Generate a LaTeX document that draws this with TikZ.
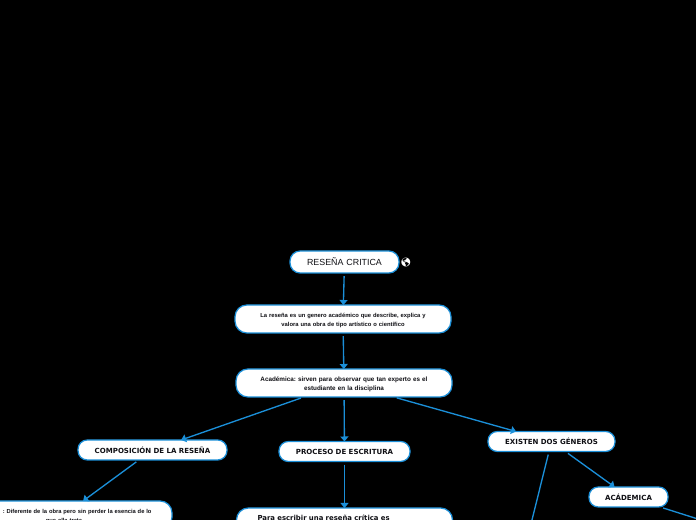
\documentclass[tikz,border=0pt]{standalone}
\usepackage{xcolor}
\usepackage{fontspec}
\usetikzlibrary{arrows.meta, positioning}
\setmainfont{Liberation Sans}
\newfontfamily\headfont{DejaVu Sans}
\newfontfamily\emojifont{Noto Emoji}
\definecolor{myblue}{RGB}{27,143,216}
\definecolor{mydark}{RGB}{15,15,20}
\frenchspacing
\tikzset{
  topic/.style={rectangle, draw=myblue, fill=white, text=mydark,
    text width=5.4cm, align=center, minimum height=0.7cm, inner sep=0pt, outer sep=0pt,
    rounded corners=8.5pt, line width=0.9pt, font=\fontsize{4.15pt}{6.4pt}\selectfont\bfseries},
  heading/.style={topic, minimum height=0.5cm, rounded corners=6.6pt,
    font=\fontsize{5pt}{6.4pt}\headfont\bfseries},
  lowtext/.style={execute at begin node=\rule{0pt}{4.7pt}},
  link/.style={-{Triangle[width=0.2cm, length=0.125cm]}, line width=0.95pt, color=myblue,
    shorten <=0.08cm}
}
\begin{document}
\begin{tikzpicture}
  \fill[black] (0,0) rectangle (17.4,13);
  \path[use as bounding box] (0,0) rectangle (17.4,13);
  \clip (0,0) rectangle (17.4,13);
  % Title
  \node[topic, text width=2.725cm, minimum height=0.55cm, rounded corners=7.2pt,
    font=\fontsize{6.3pt}{8pt}\selectfont] (root) at (8.6125,6.45) {RESEÑA CRITICA};
  \node[right=0.03cm of root, yshift=-0.02cm, inner sep=0pt, text=white,
    font=\fontsize{6.2pt}{7pt}\emojifont] (globe) {🌎};
  % Definition
  \node[topic, lowtext, below=0.8cm of root, xshift=-0.0375cm] (genre) {La reseña es un genero académico que describe, explica y\\valora una obra de tipo artístico o científico};
  % Academic
  \node[topic, lowtext, below=0.9cm of genre, xshift=0.025cm, font=\fontsize{4.5pt}{6.4pt}\selectfont\bfseries] (acad) {Académica: sirven para observar que tan experto es el\\estudiante en la disciplina};
  % Three branches
  \node[heading, text width=3.725cm, below=1.075cm of acad, xshift=-4.7875cm] (comp) {COMPOSICIÓN DE LA RESEÑA};
  \node[heading, text width=3.275cm, below=1.1125cm of acad, xshift=0.0125cm] (proc) {PROCESO DE ESCRITURA};
  \node[heading, text width=3.175cm, below=0.8625cm of acad, xshift=5.1875cm] (exist) {EXISTEN DOS GÉNEROS};
  % Lower row
  \node[topic, lowtext, below=1.025cm of comp, xshift=-2.2125cm, font=\fontsize{4.1pt}{6.2pt}\selectfont\bfseries] (diff) {\hspace*{0.66cm}: Diferente de la obra pero sin perder la esencia de lo\\que ella trata};
  \node[topic, lowtext, text width=4.35cm, inner xsep=0.525cm, align=left, below=1.1625cm of proc,
    font=\fontsize{4.9pt}{6.4pt}\headfont\bfseries] (write) {Para escribir una reseña crítica es\\\mbox{}};
  \node[heading, text width=1.975cm, below=0.8875cm of exist, xshift=1.925cm] (acade) {ACÁDEMICA};
  \coordinate (exitdown) at (13.15,-0.6);
  \coordinate (exitright) at (18.0,-0.15);

  % Arrows
  \draw[link] (root) -- (genre);
  \draw[link] (genre) -- (acad);
  \draw[link] (acad) -- (comp);
  \draw[link] (acad) -- (proc);
  \draw[link] (acad) -- (exist);
  \draw[link] (comp) -- (diff);
  \draw[link] (proc) -- (write);
  \draw[link] (exist) -- (acade);
  \draw[link] (exist) -- (exitdown);
  \draw[link] (acade) -- (exitright);
\end{tikzpicture}
\end{document}
